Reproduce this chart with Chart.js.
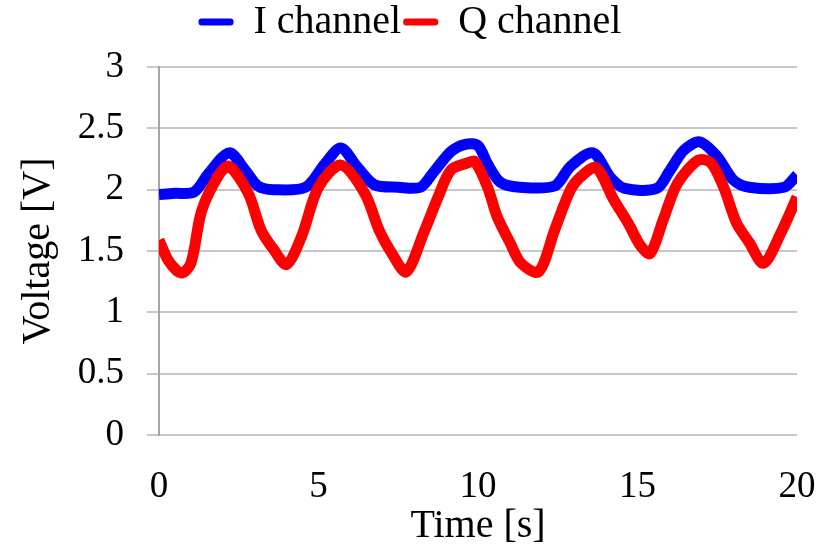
<!DOCTYPE html>
<html>
<head>
<meta charset="utf-8">
<script src="https://cdn.jsdelivr.net/npm/chart.js@4"></script>
<style>
  body { margin: 0; background: #fff; }
</style>
</head>
<body>
<canvas id="chart" width="820" height="553"></canvas>
<script>
// I channel readings (time in s, voltage in V)
const iTime = [0, 0.5, 1.1, 1.55, 2.2, 2.7, 3.1, 3.6, 4.6, 5.2, 5.7, 6.2, 6.75, 7.5, 8.2, 8.6, 9.15, 9.6, 10.0, 10.3, 10.7, 11.3, 12.4, 12.9, 13.6, 14.15, 14.6, 15.6, 16.0, 16.45, 16.95, 17.5, 18.0, 18.5, 19.6, 20];
const iVolt = [1.96, 1.97, 1.98, 2.13, 2.30, 2.16, 2.03, 2.00, 2.02, 2.21, 2.34, 2.19, 2.04, 2.02, 2.02, 2.14, 2.31, 2.37, 2.36, 2.21, 2.06, 2.02, 2.03, 2.19, 2.30, 2.10, 2.01, 2.01, 2.15, 2.32, 2.39, 2.27, 2.08, 2.02, 2.02, 2.12];

// Q channel readings
const qTime = [0, 0.3, 0.7, 1.0, 1.34, 1.9, 2.2, 2.8, 3.2, 3.6, 4.0, 4.47, 5.0, 5.7, 6.45, 6.9, 7.3, 7.75, 8.3, 8.75, 9.15, 9.7, 9.9, 10.3, 10.6, 11.0, 11.35, 11.9, 12.4, 12.9, 13.2, 13.7, 14.25, 14.7, 15.1, 15.4, 15.8, 16.25, 16.9, 17.3, 17.7, 18.1, 18.5, 18.95, 19.5, 20];
const qVolt = [1.59, 1.42, 1.32, 1.40, 1.83, 2.13, 2.19, 1.97, 1.67, 1.51, 1.39, 1.62, 2.02, 2.20, 1.97, 1.67, 1.48, 1.33, 1.65, 1.94, 2.16, 2.22, 2.23, 2.02, 1.78, 1.57, 1.40, 1.33, 1.67, 2.00, 2.10, 2.18, 1.92, 1.73, 1.54, 1.48, 1.75, 2.05, 2.24, 2.22, 2.02, 1.73, 1.57, 1.40, 1.65, 1.94];

const xTicks = [0, 5, 10, 15, 20];
const yTicks = [0, 0.5, 1, 1.5, 2, 2.5, 3];

function toPoints(xs, ys) {
    return xs.map((x, i) => ({ x: x, y: ys[i] }));
}

// push the plot down a bit below the legend
const legendGap = {
    id: 'legendGap',
    beforeLayout(chart) {
        const lg = chart.legend;
        if (lg && !lg._gapPatched) {
            const fit = lg.fit;
            lg.fit = function () {
                fit.call(this);
                this.height += 15;
            };
            lg._gapPatched = true;
        }
    }
};

const serif = 'Liberation Serif, Times New Roman, serif';

new Chart(document.getElementById('chart'), {
    type: 'line',
    data: {
        datasets: [
            {
                label: 'I channel',
                data: toPoints(iTime, iVolt),
                borderColor: '#0000ff',
                backgroundColor: '#0000ff',
                borderWidth: 11,
                pointRadius: 0,
                tension: 0.3,
                fill: false,
                order: 2
            },
            {
                label: 'Q channel',
                data: toPoints(qTime, qVolt),
                borderColor: '#ff0000',
                backgroundColor: '#ff0000',
                borderWidth: 11,
                pointRadius: 0,
                tension: 0.3,
                fill: false,
                order: 1
            }
        ]
    },
    options: {
        responsive: false,
        animation: false,
        plugins: {
            tooltip: { enabled: false },
            legend: {
                position: 'top',
                labels: {
                    color: '#000',
                    font: { family: serif, size: 40 },
                    boxWidth: 35,
                    boxHeight: 7,
                    padding: 2,
                    useBorderRadius: true,
                    borderRadius: 3,
                    sort: (a, b) => a.datasetIndex - b.datasetIndex,
                    generateLabels(chart) {
                        return Chart.defaults.plugins.legend.labels.generateLabels(chart)
                            .map(l => Object.assign(l, { lineWidth: 0 }));
                    }
                }
            }
        },
        scales: {
            x: {
                type: 'linear',
                min: 0,
                max: 20,
                afterBuildTicks: scale => { scale.ticks = xTicks.map(v => ({ value: v })); },
                afterFit: scale => {
                    scale.height = 118;
                    scale.paddingLeft = 0;
                    scale.paddingRight = 23;
                },
                grid: { display: false, drawTicks: false },
                border: { display: false },
                ticks: {
                    color: '#000',
                    font: { family: serif, size: 37 },
                    padding: 30,
                    maxRotation: 0
                },
                title: {
                    display: true,
                    text: 'Time [s]',
                    color: '#000',
                    font: { family: serif, size: 40 },
                    padding: { top: 3, bottom: 3 }
                }
            },
            y: {
                min: 0,
                max: 3,
                afterBuildTicks: scale => { scale.ticks = yTicks.map(v => ({ value: v })); },
                afterFit: scale => { scale.width = 159; },
                grid: { color: '#c8c8c8', lineWidth: 2, tickLength: 12 },
                border: { color: '#a6a6a6', width: 2 },
                ticks: {
                    color: '#000',
                    font: { family: serif, size: 37 },
                    padding: 23,
                    callback: v => String(v)
                },
                title: {
                    display: true,
                    text: 'Voltage [V]',
                    color: '#000',
                    font: { family: serif, size: 40 },
                    padding: { top: 14, bottom: 0 }
                }
            }
        }
    },
    plugins: [legendGap]
});
</script>
</body>
</html>
